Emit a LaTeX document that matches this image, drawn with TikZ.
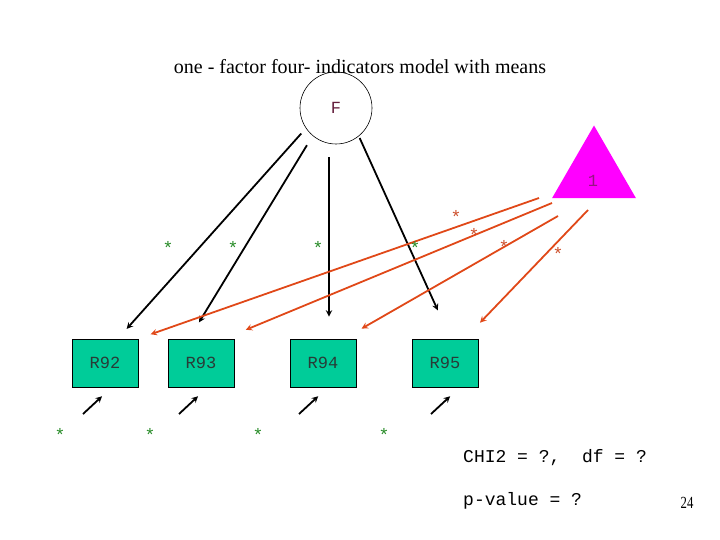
\documentclass[tikz,border=0pt]{standalone}
\usepackage{fontspec}
\setmainfont{Liberation Serif}
\setmonofont{Liberation Mono}
\usetikzlibrary{shapes.geometric}

\definecolor{boxgreen}{RGB}{0,204,153}
\definecolor{boxtext}{RGB}{40,60,55}
\definecolor{ftext}{RGB}{100,30,60}
\definecolor{onetext}{RGB}{150,20,130}
\definecolor{trimag}{RGB}{255,0,255}
\definecolor{meanred}{RGB}{224,72,24}
\definecolor{meanstar}{RGB}{205,80,45}
\definecolor{loadgreen}{RGB}{40,140,40}

\begin{document}
\begin{tikzpicture}[x=1pt, y=-1pt,
    obs/.style={draw, line width=0.8pt, fill=boxgreen, minimum width=66pt,
                minimum height=48pt, inner sep=0pt, text=boxtext,
                font=\ttfamily\fontsize{17}{17}\selectfont},
    lat/.style={draw, circle, line width=0.6pt, minimum size=72pt, inner sep=0pt,
                text=ftext, font=\ttfamily\fontsize{17}{17}\selectfont},
    tri/.style={regular polygon, regular polygon sides=3, fill=trimag,
                minimum size=97pt, inner sep=0pt},
    load/.style={->, >=stealth, line width=1.8pt},
    mean/.style={->, >=stealth, line width=1.8pt, color=meanred},
    err/.style={->, >=stealth, line width=1.8pt},
    star/.style={inner sep=0pt, text=#1, font=\ttfamily\fontsize{18}{18}\selectfont},
    stat/.style={anchor=west, inner sep=0pt, font=\ttfamily\fontsize{18}{18}\selectfont},
]
\useasboundingbox (0,0) rectangle (720,540);

\node[font=\fontsize{20}{20}\selectfont] (title) at (360,67)
    {one - factor four- indicators model with means};

\node[lat] (F)   at (336,108) {F};
\node[tri] (one) at (594,174) {};
\node[text=onetext, font=\ttfamily\fontsize{17}{17}\selectfont] (onelab) at (593,181) {1};

\node[obs] (r92) at (105,363) {R92};
\node[obs] (r93) at (201,363) {R93};
\node[obs] (r94) at (323,363) {R94};
\node[obs] (r95) at (445,363) {R95};

% loadings
\draw[load, shorten <=7pt,  shorten >=13pt] (F.214) -- (r92.62);
\draw[load, shorten <=11pt, shorten >=19pt] (F.230) -- (r93.116);
\draw[load, shorten <=13pt, shorten >=22pt] ([xshift=-7pt]F.south) -- ([xshift=6pt]r94.north);
\draw[load, shorten <=2pt,  shorten >=31pt] (F.-51) -- (r95.77);

% means
\coordinate (m1) at (539,198);
\coordinate (m2) at (552,203);
\coordinate (m3) at (558,216);
\coordinate (m4) at (588,210);
\draw[mean, shorten >=13pt] (m1) -- (r92.north east);
\draw[mean, shorten >=23pt] (m2) -- (r93.46);
\draw[mean, shorten >=20pt] (m3) -- (r94.49);
\draw[mean, shorten >=22pt] (m4) -- (r95.51);

% errors
\foreach \b/\a/\ex in {92/-75/83, 93/-75/179, 94/-79/299, 95/-59/431} {
  \coordinate (e\b) at (\ex,414);
  \draw[err, shorten >=13pt] (e\b) -- (r\b.\a);
}

\foreach \i/\sx in {1/168, 2/233, 3/318, 4/415}
  \node[star=loadgreen] (l\i) at (\sx,248) {*};
\foreach \i/\sx/\sy in {1/456/217, 2/474/235, 3/504/247, 4/558/254}
  \node[star=meanstar] (s\i) at (\sx,\sy) {*};
\foreach \i/\sx in {1/60, 2/150, 3/258, 4/384}
  \node[star=loadgreen] (v\i) at (\sx,435) {*};

\node[stat] (chi)  at (463,458) {CHI2 = ?,\ \ df = ?};
\node[stat] (pval) at (463,501) {p-value = ?};
\node[font=\fontsize{17}{17}\selectfont] (page) at (687,503) {\scalebox{0.75}[1]{24}};
\end{tikzpicture}
\end{document}
